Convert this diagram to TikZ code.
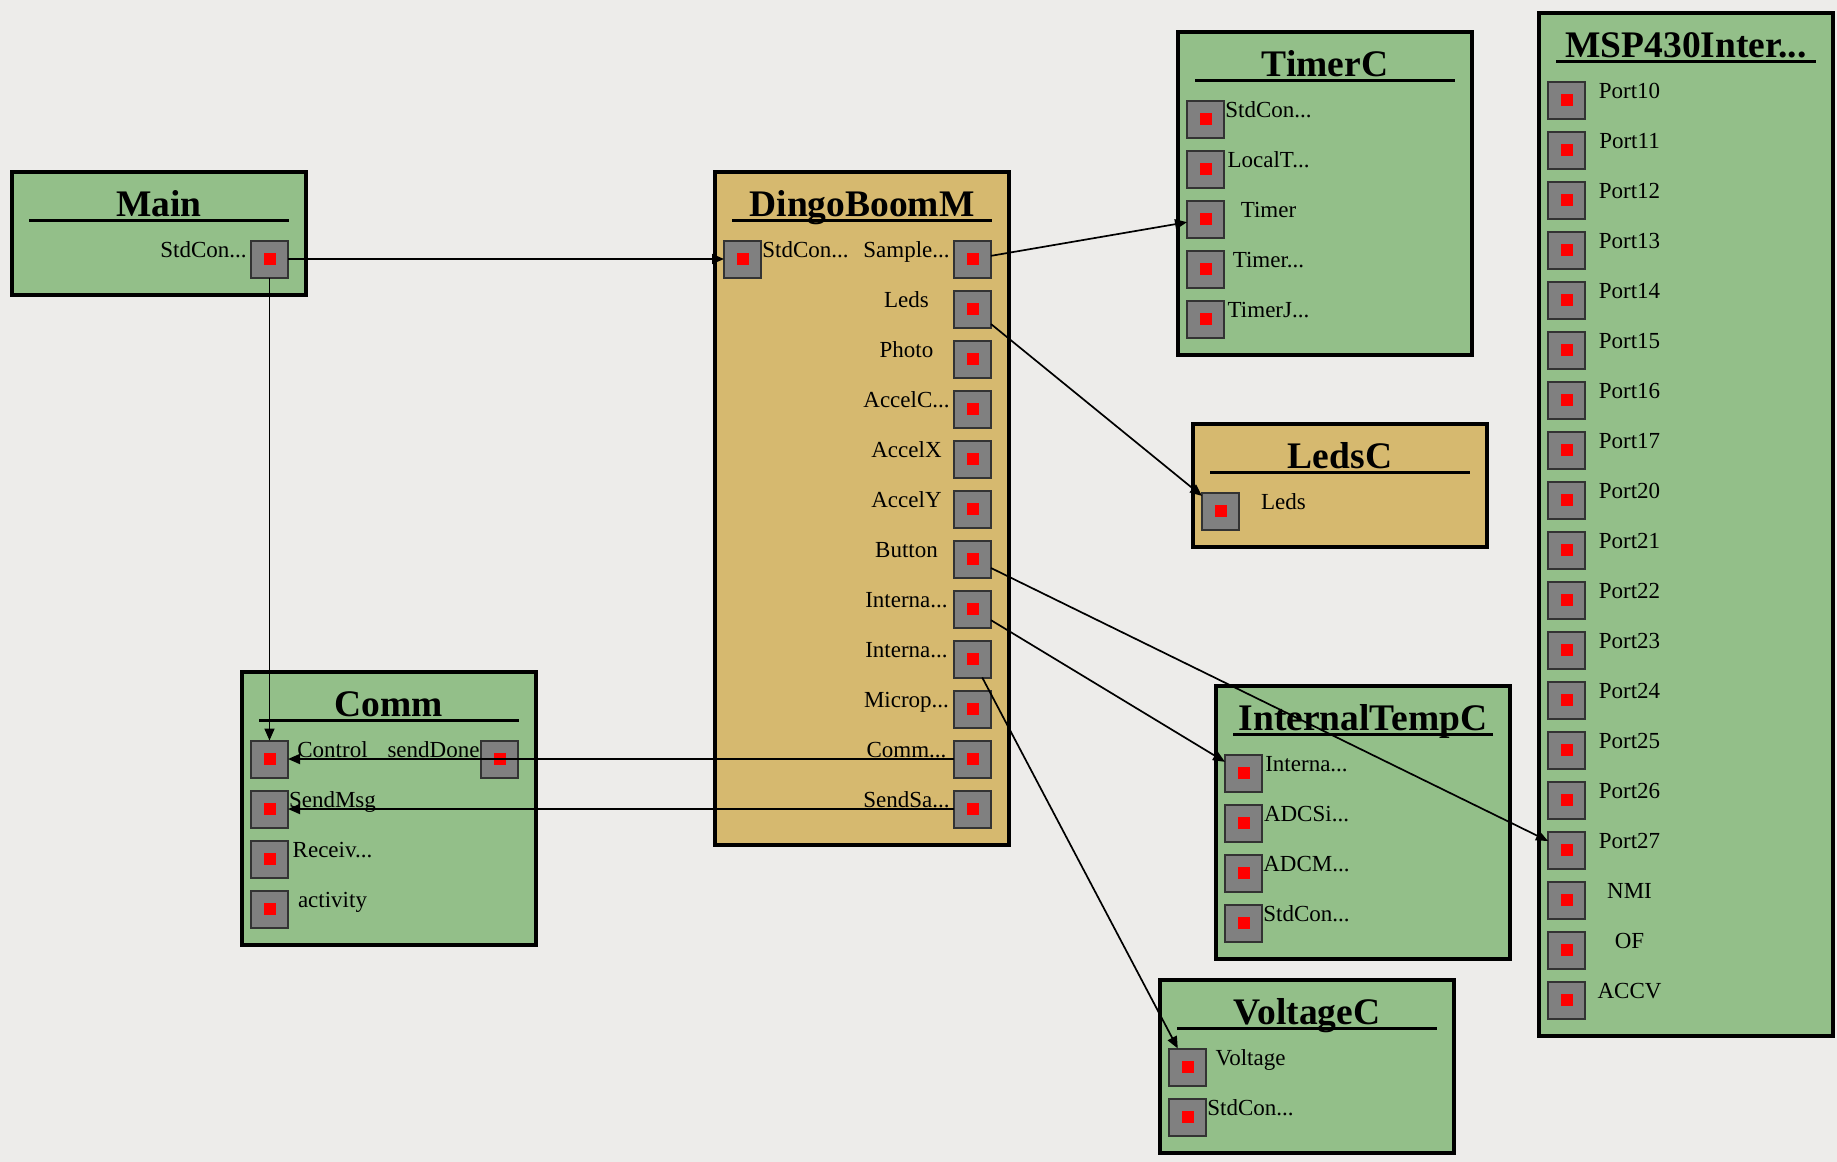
\documentclass[tikz,border=0pt]{standalone}
\usepackage{fontspec}
\setmainfont{Liberation Serif}
\usetikzlibrary{positioning, arrows.meta}
\definecolor{verdecomp}{RGB}{147,191,137}
\definecolor{ocremod}{RGB}{214,185,111}
\definecolor{fondo}{RGB}{237,236,234}
\definecolor{grispuerto}{RGB}{128,128,128}

\begin{document}
\begin{tikzpicture}[
			x=1pt, y=-1pt,
			comp/.style = {draw, line width=4pt, fill=verdecomp, minimum width=294pt,
				anchor=north west, inner sep=0pt, outer sep=0pt},
			modl/.style = {comp, fill=ocremod},
			title/.style = {font=\fontsize{37.5}{40}\selectfont\bfseries, anchor=base, inner sep=0pt},
			rule/.style = {line width=3pt},
			port/.style = {draw=black!80, line width=2pt, fill=grispuerto, minimum size=37pt,
				inner sep=0pt, outer sep=0pt,
				path picture={\fill[red] ([shift={(-6pt,-6pt)}]path picture bounding box.center) rectangle ++(12pt,12pt);}},
			plabel/.style = {font=\fontsize{23}{25}\selectfont, inner sep=0pt, anchor=base},
			lport/.style = {port, label={[plabel, xshift=63pt, yshift=-16.5pt]90:#1}},
			rport/.style = {port, label={[plabel, xshift=-66pt, yshift=-16.5pt]90:#1}},
			conn/.style = {-{Triangle[length=12pt, width=10pt]}, line width=1.7pt}
			]
			
			\fill[fondo] (0,0) rectangle (1837,1162);
			\useasboundingbox (0,0) rectangle (1837,1162);
			
			% Main
			\node[comp, minimum height=123pt] (main) at (12,172) {};
			\node[title] (mainT) at ([yshift=-44pt]main.north) {Main};
			\draw[rule] ([xshift=-130pt, yshift=-48pt]main.north) -- ([xshift=130pt, yshift=-48pt]main.north);
			\node[rport=StdCon...] (mStd) at ([xshift=257.5pt, yshift=-87pt]main.north west) {};
			
			% DingoBoomM
			\node[modl, minimum height=673pt] (dingo) at (715,172) {};
			\node[title] (dingoT) at ([yshift=-44pt]dingo.north) {DingoBoomM};
			\draw[rule] ([xshift=-130pt, yshift=-48pt]dingo.north) -- ([xshift=130pt, yshift=-48pt]dingo.north);
			\node[lport=StdCon...] (dStd) at ([xshift=27.5pt, yshift=-87pt]dingo.north west) {};
			\node[rport=Sample...] (dSample) at ([xshift=257.5pt, yshift=-87pt]dingo.north west) {};
			\node[rport=Leds, below=13pt of dSample] (dLeds) {};
			\node[rport=Photo, below=13pt of dLeds] (dPhoto) {};
			\node[rport=AccelC..., below=13pt of dPhoto] (dAccelC) {};
			\node[rport=AccelX, below=13pt of dAccelC] (dAccelX) {};
			\node[rport=AccelY, below=13pt of dAccelX] (dAccelY) {};
			\node[rport=Button, below=13pt of dAccelY] (dButton) {};
			\node[rport=Interna..., below=13pt of dButton] (dTemp) {};
			\node[rport=Interna..., below=13pt of dTemp] (dVolt) {};
			\node[rport=Microp..., below=13pt of dVolt] (dMicro) {};
			\node[rport=Comm..., below=13pt of dMicro] (dComm) {};
			\node[rport=SendSa..., below=13pt of dComm] (dSend) {};
			
			% TimerC
			\node[comp, minimum height=323pt] (timerc) at (1178,32) {};
			\node[title] (timercT) at ([yshift=-44pt]timerc.north) {TimerC};
			\draw[rule] ([xshift=-130pt, yshift=-48pt]timerc.north) -- ([xshift=130pt, yshift=-48pt]timerc.north);
			\node[lport=StdCon...] (tStd) at ([xshift=27.5pt, yshift=-87pt]timerc.north west) {};
			\node[lport=LocalT..., below=13pt of tStd] (tLocal) {};
			\node[lport=Timer, below=13pt of tLocal] (tTimer) {};
			\node[lport=Timer..., below=13pt of tTimer] (tTimerM) {};
			\node[lport=TimerJ..., below=13pt of tTimerM] (tTimerJ) {};
			
			% LedsC
			\node[modl, minimum height=123pt] (ledsc) at (1193,424) {};
			\node[title] (ledscT) at ([yshift=-44pt]ledsc.north) {LedsC};
			\draw[rule] ([xshift=-130pt, yshift=-48pt]ledsc.north) -- ([xshift=130pt, yshift=-48pt]ledsc.north);
			\node[lport=Leds] (lLeds) at ([xshift=27.5pt, yshift=-87pt]ledsc.north west) {};
			
			% InternalTempC
			\node[comp, minimum height=273pt] (itemp) at (1216,686) {};
			\node[title] (itempT) at ([yshift=-44pt]itemp.north) {InternalTempC};
			\draw[rule] ([xshift=-130pt, yshift=-48pt]itemp.north) -- ([xshift=130pt, yshift=-48pt]itemp.north);
			\node[lport=Interna...] (iTemp) at ([xshift=27.5pt, yshift=-87pt]itemp.north west) {};
			\node[lport=ADCSi..., below=13pt of iTemp] (iSingle) {};
			\node[lport=ADCM..., below=13pt of iSingle] (iMulti) {};
			\node[lport=StdCon..., below=13pt of iMulti] (iStd) {};
			
			% MSP430Interrupt
			\node[comp, minimum height=1023pt] (msp) at (1539,13) {};
			\node[title] (mspT) at ([yshift=-44pt]msp.north) {MSP430Inter...};
			\draw[rule] ([xshift=-130pt, yshift=-48pt]msp.north) -- ([xshift=130pt, yshift=-48pt]msp.north);
			\node[lport=Port10] (p10) at ([xshift=27.5pt, yshift=-87pt]msp.north west) {};
			\node[lport=Port11, below=13pt of p10] (p11) {};
			\node[lport=Port12, below=13pt of p11] (p12) {};
			\node[lport=Port13, below=13pt of p12] (p13) {};
			\node[lport=Port14, below=13pt of p13] (p14) {};
			\node[lport=Port15, below=13pt of p14] (p15) {};
			\node[lport=Port16, below=13pt of p15] (p16) {};
			\node[lport=Port17, below=13pt of p16] (p17) {};
			\node[lport=Port20, below=13pt of p17] (p20) {};
			\node[lport=Port21, below=13pt of p20] (p21) {};
			\node[lport=Port22, below=13pt of p21] (p22) {};
			\node[lport=Port23, below=13pt of p22] (p23) {};
			\node[lport=Port24, below=13pt of p23] (p24) {};
			\node[lport=Port25, below=13pt of p24] (p25) {};
			\node[lport=Port26, below=13pt of p25] (p26) {};
			\node[lport=Port27, below=13pt of p26] (p27) {};
			\node[lport=NMI, below=13pt of p27] (pNMI) {};
			\node[lport=OF, below=13pt of pNMI] (pOF) {};
			\node[lport=ACCV, below=13pt of pOF] (pACCV) {};
			
			% VoltageC
			\node[comp, minimum height=173pt] (voltc) at (1160,980) {};
			\node[title] (voltcT) at ([yshift=-44pt]voltc.north) {VoltageC};
			\draw[rule] ([xshift=-130pt, yshift=-48pt]voltc.north) -- ([xshift=130pt, yshift=-48pt]voltc.north);
			\node[lport=Voltage] (vVolt) at ([xshift=27.5pt, yshift=-87pt]voltc.north west) {};
			\node[lport=StdCon..., below=13pt of vVolt] (vStd) {};
			
			% Comm
			\node[comp, minimum height=273pt] (comm) at (242,672) {};
			\node[title] (commT) at ([yshift=-44pt]comm.north) {Comm};
			\draw[rule] ([xshift=-130pt, yshift=-48pt]comm.north) -- ([xshift=130pt, yshift=-48pt]comm.north);
			\node[lport=Control] (cControl) at ([xshift=27.5pt, yshift=-87pt]comm.north west) {};
			\node[lport=SendMsg, below=13pt of cControl] (cSend) {};
			\node[lport=Receiv..., below=13pt of cSend] (cRecv) {};
			\node[lport=activity, below=13pt of cRecv] (cAct) {};
			\node[rport=sendDone] (cDone) at ([xshift=257.5pt, yshift=-87pt]comm.north west) {};
			
			% wiring
			\draw[conn] (mStd) -- (dStd);
			\draw[conn] (mStd) -- (cControl);
			\draw[conn] (dSample) -- (tTimer);
			\draw[conn] (dLeds) -- (lLeds);
			\draw[conn] (dButton) -- (p27);
			\draw[conn] (dTemp) -- (iTemp);
			\draw[conn] (dVolt) -- (vVolt);
			\draw[conn] (dComm) -- (cControl);
			\draw[conn] (dSend) -- (cSend);
			
		\end{tikzpicture}
\end{document}
